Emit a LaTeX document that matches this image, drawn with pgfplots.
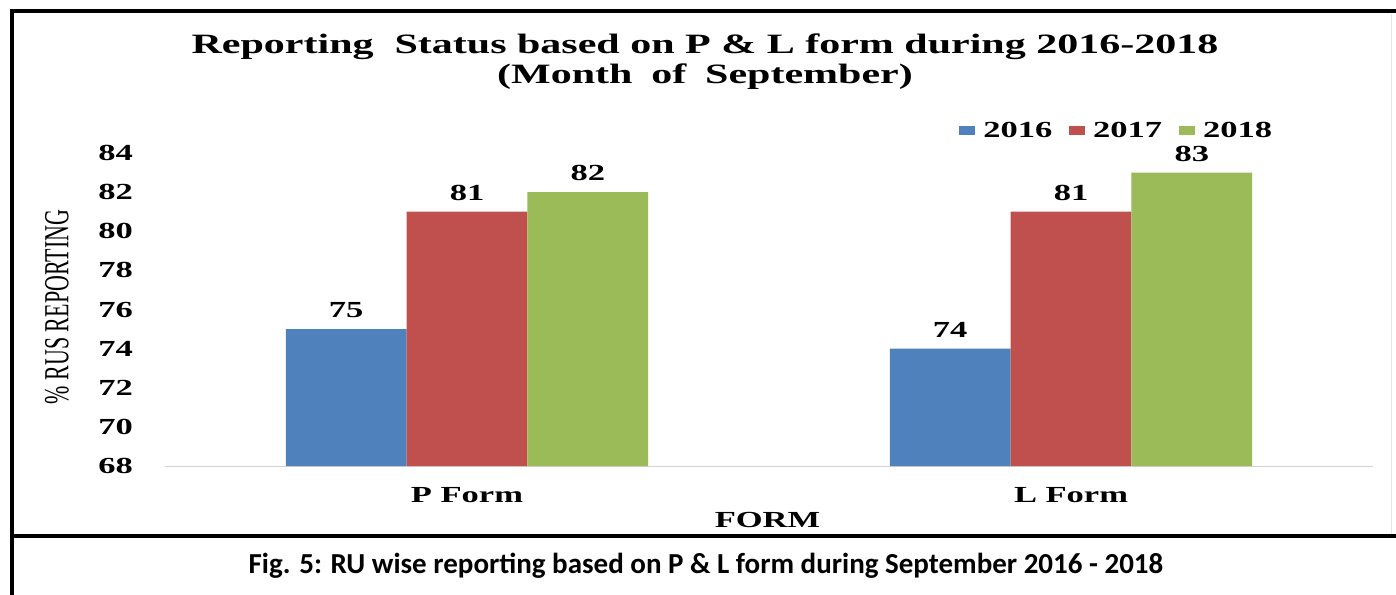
\documentclass[border=0pt]{standalone}
\usepackage{pgfplots}
\pgfplotsset{compat=1.18}
\usepackage{graphicx}
\usepackage{fontspec}
\setmainfont{Liberation Serif}
\newfontfamily\capfont{Carlito}
\definecolor{cBlue}{HTML}{4F81BD}
\definecolor{cRed}{HTML}{C0504D}
\definecolor{cGreen}{HTML}{9BBB59}
\newcommand{\sx}[1]{\scalebox{1.5}[1]{#1}}
\begin{document}
\begin{tikzpicture}
\clip (0,0) rectangle (698pt,297pt);
\fill[white] (0,0) rectangle (698pt,297pt);
% frame
\draw[line width=2pt] (5.75pt,-2pt) -- (5.75pt,291.25pt) -- (700pt,291.25pt);
\draw[line width=2pt] (5.75pt,29pt) -- (700pt,29pt);
\draw[gray!20, line width=0.5pt] (695.5pt,30pt) -- (695.5pt,290pt);
\begin{axis}[
  at={(82.5pt,64pt)}, anchor=south west,
  scale only axis, width=604pt, height=156.5pt,
  xmin=-0.5, xmax=1.5, ymin=68, ymax=84,
  ybar=0pt, bar width=60.4pt,
  axis x line=bottom, axis y line=left,
  x axis line style={draw=gray!35, -},
  y axis line style={draw=none},
  tick style={draw=none}, major tick length=0pt,
  xtick={0,1},
  xticklabels={\sx{P Form},\sx{L Form}},
  xticklabel style={font=\bfseries\fontsize{11.5}{13}\selectfont, yshift=-7pt},
  ytick={68,70,...,84},
  yticklabel={\sx{\textbf{\pgfmathprintnumber[assume math mode=true]{\tick}}}},
  yticklabel style={font=\bfseries\fontsize{11.5}{13}\selectfont, anchor=east, xshift=-12.5pt},
  nodes near coords={\sx{\textbf{\pgfmathprintnumber[assume math mode=true]{\pgfplotspointmeta}}}},
  every node near coord/.append style={font=\bfseries\fontsize{11.5}{13}\selectfont, black, yshift=2pt},
  legend columns=3,
  legend style={draw=none, fill=none, at={(axis description cs:0.652,1.07)}, anchor=west,
    font=\bfseries\fontsize{11.5}{13}\selectfont,
    nodes={inner xsep=2.2pt},
    /tikz/every odd column/.append style={column sep=2pt},
    /tikz/every even column/.append style={column sep=6pt}},
  legend image code/.code={\fill[#1] (0pt,-2pt) rectangle (8pt,2.5pt);},
]
\addplot[fill=cBlue, draw=none] coordinates {(0,75) (1,74)};
\addplot[fill=cRed, draw=none] coordinates {(0,81) (1,81)};
\addplot[fill=cGreen, draw=none] coordinates {(0,82) (1,83)};
\legend{\sx{2016},\sx{2017},\sx{2018}}
\end{axis}
% titles
\node[align=center, font=\bfseries\fontsize{14}{16}\selectfont] at (352.5pt,266pt)
  {\sx{Reporting\hspace{0.25em} Status based on P \& L form during 2016-2018}\\[-1pt]
   \sx{(Month\hspace{0.2em} of\hspace{0.2em} September)}};
\node[rotate=90, font=\fontsize{11}{13}\selectfont] at (28.5pt,143.5pt)
  {\scalebox{1}[1.6]{\% RUS REPORTING}};
\node[font=\bfseries\fontsize{11.5}{13}\selectfont] at (383.75pt,37pt) {\sx{FORM}};
\node[font=\capfont\bfseries\fontsize{14.5}{17}\selectfont] at (353pt,14pt)
  {Fig. 5: RU wise reporting based on P \& L form during September 2016 - 2018};
\end{tikzpicture}
\end{document}
